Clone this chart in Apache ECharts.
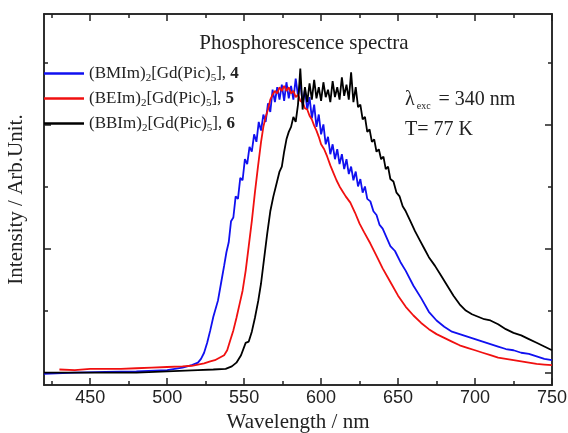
<!DOCTYPE html>
<html>
<head>
<meta charset="utf-8">
<script src="https://cdn.jsdelivr.net/npm/echarts@6/dist/echarts.min.js"></script>
<style>
  html, body { margin: 0; padding: 0; background: #fff; }
  #chart { width: 568px; height: 433px; }
</style>
</head>
<body>
<div id="chart"></div>
<script>
// axis ticks
var xMajor = [450, 500, 550, 600, 650, 700, 750];
var xMinor = [425, 475, 525, 575, 625, 675, 725];
var yMajor = [0, 1, 2];
var yMinor = [0.5, 1.5, 2.5];

// (BMIm)2[Gd(Pic)5], 4  - blue
var blueWl = [420, 440, 460, 480, 500, 510, 516, 520, 522, 524, 526, 528, 530, 533, 535, 537, 538.5,
  540, 541.5, 543, 544.5, 546, 547.5, 549, 550.5, 552, 553.5, 555, 556.5, 558, 559.5, 561, 562.5, 564, 565.5,
  567, 568.5, 570, 571.5, 573, 574.5, 576, 577.5, 579, 580.5, 582, 583.5, 585, 586.5, 588, 589.5, 591, 592.5,
  594, 595.5, 597, 598.5, 600, 601.5, 603, 604.5, 606, 607.5, 609, 610.5, 612, 613.5, 615, 616.5, 618, 619.5,
  621, 622.5, 624, 625.5, 627, 628.5, 630, 632, 634, 636, 638, 640,
  645, 648, 651.6, 655, 660, 665, 670, 675, 680, 685, 690, 695, 700, 705, 710, 715, 720, 725, 730, 735, 740, 745, 750];
var blueInt = [-0.01, 0.0, 0.005, 0.01, 0.02, 0.04, 0.06, 0.08, 0.11, 0.16, 0.24, 0.34, 0.45, 0.58, 0.72, 0.86, 0.97,
  1.05, 1.22, 1.25, 1.42, 1.40, 1.57, 1.55, 1.72, 1.68, 1.82, 1.78, 1.92, 1.86, 2.02, 1.95, 2.08, 2.02, 2.17,
  2.10, 2.28, 2.18, 2.30, 2.20, 2.32, 2.19, 2.34, 2.21, 2.31, 2.20, 2.37, 2.23, 2.34, 2.17, 2.28, 2.12, 2.22,
  2.05, 2.16, 1.98, 2.08, 1.92, 2.00, 1.84, 1.90, 1.76, 1.84, 1.72, 1.80, 1.68, 1.76, 1.64, 1.72, 1.60, 1.66,
  1.55, 1.62, 1.50, 1.56, 1.45, 1.50, 1.40, 1.38, 1.30, 1.27, 1.19, 1.16,
  1.02, 0.98, 0.89, 0.82, 0.70, 0.60, 0.49, 0.42, 0.37, 0.33, 0.31, 0.29, 0.27, 0.25, 0.23, 0.21, 0.19, 0.18, 0.16, 0.15, 0.13, 0.11, 0.10];

// (BEIm)2[Gd(Pic)5], 5  - red
var redWl = [430, 440, 450, 460, 470, 480, 490, 500, 510, 516, 520, 524, 528, 531, 534, 537, 539, 541, 543, 545,
  547, 549, 551, 553, 555, 557, 559, 561, 562.5, 564, 565.5, 567, 568.5, 570, 571.5, 573, 574.5, 576, 577.5, 579,
  580.5, 582, 583.5, 585, 586.5, 588, 589.5, 591, 592.5, 594, 595.5, 597, 598.5, 600, 602, 604, 606, 608, 610,
  612, 614, 616, 619, 622, 625, 628, 632, 636, 640, 645, 650, 655, 660, 665, 670, 675, 680, 685, 690, 695, 700,
  705, 710, 715, 720, 725, 730, 735, 740, 745, 750];
var redInt = [0.025, 0.02, 0.03, 0.03, 0.03, 0.035, 0.04, 0.045, 0.05, 0.055, 0.065, 0.075, 0.09, 0.10, 0.12, 0.14, 0.18, 0.26, 0.34, 0.44,
  0.55, 0.66, 0.82, 1.02, 1.22, 1.45, 1.66, 1.86, 1.98, 2.06, 2.12, 2.20, 2.24, 2.27, 2.25, 2.30, 2.27, 2.31, 2.27, 2.30,
  2.25, 2.27, 2.22, 2.24, 2.19, 2.18, 2.13, 2.12, 2.07, 2.04, 1.99, 1.95, 1.90, 1.84, 1.80, 1.74, 1.67, 1.61, 1.55,
  1.50, 1.46, 1.42, 1.37, 1.29, 1.20, 1.13, 1.04, 0.94, 0.84, 0.73, 0.62, 0.53, 0.46, 0.40, 0.35, 0.31, 0.28, 0.25, 0.22, 0.20, 0.18,
  0.16, 0.14, 0.12, 0.11, 0.10, 0.09, 0.08, 0.07, 0.065, 0.06];

// (BBIm)2[Gd(Pic)5], 6  - black
var blackWl = [420, 450, 480, 500, 520, 530, 538, 542, 545, 548, 551, 553, 555, 557, 559.2, 561, 563, 565, 567,
  569, 571, 573, 574.5, 576, 577.5, 579, 580.5, 582, 583.5, 585, 586.5, 588, 589.5, 591, 592.5, 594, 595.5, 597,
  598.5, 600, 601.5, 603, 604.5, 606, 607.5, 609, 610.5, 612, 613.5, 615, 616.5, 618, 619.5, 621, 622.5, 624,
  625.5, 627, 628.5, 630, 631.5, 633, 634.5, 636, 637.5, 639, 640.5, 642, 643.5, 645, 647, 649, 651, 653, 655,
  658, 661, 664, 667, 670, 674, 678, 682, 686, 690, 694, 698, 702, 706, 710, 715, 720, 725, 730, 735, 740, 745, 750];
var blackInt = [0.0, 0.0, 0.0, 0.01, 0.02, 0.025, 0.03, 0.05, 0.08, 0.14, 0.24, 0.25, 0.33, 0.44, 0.58, 0.72, 0.92, 1.12, 1.30,
  1.42, 1.52, 1.62, 1.66, 1.78, 1.88, 1.94, 1.98, 2.06, 2.02, 2.16, 2.45, 2.12, 2.30, 2.18, 2.33, 2.20, 2.36, 2.21,
  2.30, 2.19, 2.34, 2.22, 2.28, 2.18, 2.35, 2.22, 2.30, 2.20, 2.38, 2.23, 2.32, 2.20, 2.42, 2.18, 2.30, 2.14,
  2.16, 2.04, 2.06, 1.94, 1.96, 1.86, 1.88, 1.78, 1.80, 1.72, 1.74, 1.64, 1.66, 1.56, 1.54, 1.45, 1.42, 1.34, 1.30,
  1.22, 1.14, 1.07, 1.00, 0.93, 0.86, 0.78, 0.70, 0.62, 0.55, 0.50, 0.47, 0.45, 0.43, 0.42, 0.39, 0.35, 0.32, 0.30, 0.27, 0.24, 0.21, 0.18];

var serif = 'Liberation Serif';
var sans = 'Liberation Sans';
var axisColor = '#222';

function zip(a, b) {
  return a.map(function (v, i) { return [v, b[i]]; });
}

function xAx(pos, ticks, len, labels) {
  return {
    type: 'value', position: pos, min: 420, max: 750,
    splitLine: { show: false },
    axisLine: { show: true, onZero: false, lineStyle: { color: axisColor, width: 1.5 } },
    axisTick: { show: true, inside: true, length: len, customValues: ticks, lineStyle: { color: axisColor, width: 1.5 } },
    axisLabel: labels ? { show: true, customValues: ticks, margin: 4, fontSize: 18, color: '#222', fontFamily: sans } : { show: false }
  };
}
function yAx(pos, ticks, len) {
  return {
    type: 'value', position: pos, min: -0.1, max: 2.89,
    splitLine: { show: false },
    axisLine: { show: true, onZero: false, lineStyle: { color: axisColor, width: 1.5 } },
    axisTick: { show: true, inside: true, length: len, customValues: ticks, lineStyle: { color: axisColor, width: 1.5 } },
    axisLabel: { show: false }
  };
}

var xAxes = [xAx('bottom', xMajor, 7, true), xAx('bottom', xMinor, 4, false), xAx('top', xMajor, 7, false), xAx('top', xMinor, 4, false)];
xAxes[0].name = 'Wavelength / nm';
xAxes[0].nameLocation = 'middle';
xAxes[0].nameGap = 27;
xAxes[0].nameTextStyle = { fontFamily: serif, fontSize: 21, color: '#222' };

var yAxes = [yAx('left', yMajor, 7), yAx('left', yMinor, 4), yAx('right', yMajor, 7), yAx('right', yMinor, 4)];
yAxes[0].name = 'Intensity / Arb.Unit.';
yAxes[0].nameLocation = 'middle';
yAxes[0].nameGap = 17;
yAxes[0].nameTextStyle = { fontFamily: serif, fontSize: 21, color: '#222' };

var legendNames = ['(BMIm)2[Gd(Pic)5], 4', '(BEIm)2[Gd(Pic)5], 5', '(BBIm)2[Gd(Pic)5], 6'];
var legendRich = ['(BMIm){s|2}[Gd(Pic){s|5}], {b|4}', '(BEIm){s|2}[Gd(Pic){s|5}], {b|5}', '(BBIm){s|2}[Gd(Pic){s|5}], {b|6}'];

function line(name, wl, val, color) {
  return {
    name: name, type: 'line', showSymbol: false, symbol: 'none',
    data: zip(wl, val),
    lineStyle: { color: color, width: 1.8 },
    itemStyle: { color: color },
    animation: false
  };
}

var option = {
  animation: false,
  grid: { left: 44, right: 16, top: 14, bottom: 48, outerBoundsMode: 'none' },
  title: {
    text: 'Phosphorescence spectra',
    left: 304, top: 33, textAlign: 'center', padding: 0,
    textStyle: { fontFamily: serif, fontSize: 21, fontWeight: 'normal', color: '#222' }
  },
  legend: {
    data: legendNames,
    orient: 'vertical', left: 44, top: 65, padding: 0,
    icon: 'rect', itemWidth: 40, itemHeight: 2.5, itemGap: 6,
    formatter: function (name) { return legendRich[legendNames.indexOf(name)]; },
    textStyle: {
      fontFamily: serif, fontSize: 17, color: '#222', lineHeight: 17,
      rich: {
        s: { fontFamily: serif, fontSize: 11, padding: [10, 0, 0, 0], color: '#222' },
        b: { fontFamily: serif, fontSize: 17, fontWeight: 'bold', color: '#222' }
      }
    }
  },
  graphic: [{
    type: 'text', left: 405, top: 85,
    style: {
      text: 'λ{s|exc} = 340 nm\nT= 77 K',
      font: '20px "Liberation Serif"', fill: '#222', lineHeight: 30,
      rich: { s: { fontFamily: serif, fontSize: 10, padding: [12, 3, 0, 2], fill: '#222' } }
    }
  }],
  xAxis: xAxes,
  yAxis: yAxes,
  series: [
    line(legendNames[0], blueWl, blueInt, '#1010f0'),
    line(legendNames[1], redWl, redInt, '#f01010'),
    line(legendNames[2], blackWl, blackInt, '#000000')
  ]
};

var chart = echarts.init(document.getElementById('chart'));
chart.setOption(option);
</script>
</body>
</html>
